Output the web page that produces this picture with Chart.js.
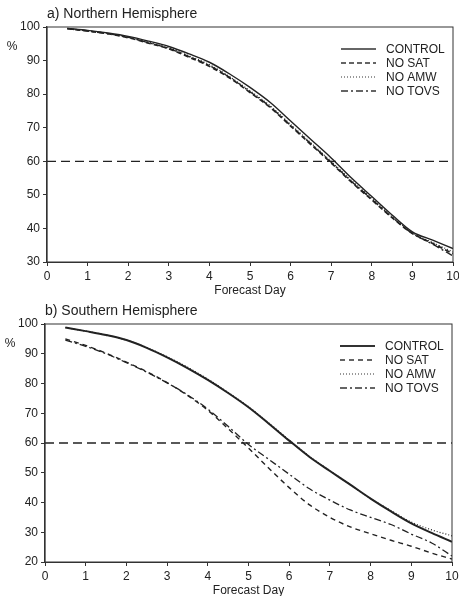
<!DOCTYPE html>
<html>
<head>
<meta charset="utf-8">
<script src="https://cdn.jsdelivr.net/npm/chart.js@4.4.0/dist/chart.umd.min.js"></script>
<style>
  html, body { margin: 0; padding: 0; background: #fff; overflow: hidden; }
  .panel { position: absolute; left: 0; width: 459px; }
  #panel-a { top: 0; height: 298px; }
  #panel-b { top: 298px; height: 300px; }
</style>
</head>
<body>
<div class="panel" id="panel-a"><canvas id="chart-a"></canvas></div>
<div class="panel" id="panel-b"><canvas id="chart-b"></canvas></div>
<script>
// forecast day of each point
const DAYS = [0.5, 1, 1.5, 2, 2.5, 3, 3.5, 4, 4.5, 5, 5.5, 6, 6.5, 7, 7.5, 8, 8.5, 9, 9.5, 10];
const SERIES_LABELS = ['CONTROL', 'NO SAT', 'NO AMW', 'NO TOVS'];

// a) Northern Hemisphere, %
const NH_CONTROL = [99.6, 99.0, 98.2, 97.2, 95.8, 94.2, 92.0, 89.5, 86.0, 82.0, 77.5, 72.0, 66.5, 61.0, 55.0, 49.5, 44.0, 39.0, 36.5, 34.0];
const NH_NO_SAT  = [99.5, 98.8, 98.0, 96.8, 95.2, 93.5, 91.0, 88.3, 84.8, 80.5, 76.0, 70.5, 65.0, 59.5, 53.8, 48.5, 43.2, 38.5, 35.5, 32.5];
const NH_NO_AMW  = [99.5, 98.9, 98.1, 97.0, 95.5, 93.8, 91.4, 88.8, 85.2, 81.0, 76.5, 71.0, 65.5, 60.0, 54.3, 49.0, 43.5, 38.7, 35.8, 33.0];
const NH_NO_TOVS = [99.5, 98.8, 98.0, 96.9, 95.3, 93.6, 91.2, 88.5, 85.0, 80.7, 76.2, 70.7, 65.2, 59.7, 54.0, 48.7, 43.3, 38.5, 35.3, 31.8];

// b) Southern Hemisphere, %
const SH_CONTROL = [98.8, 97.6, 96.3, 94.6, 92.0, 88.8, 85.2, 81.2, 76.8, 72.0, 66.5, 60.8, 55.3, 50.6, 46.0, 41.3, 37.0, 33.0, 29.8, 26.8];
const SH_NO_SAT  = [95.0, 92.8, 90.2, 87.2, 84.0, 80.3, 76.0, 71.0, 64.8, 58.3, 51.5, 45.0, 39.2, 35.0, 31.8, 29.5, 27.3, 25.3, 23.0, 21.0];
const SH_NO_AMW  = [98.8, 97.6, 96.3, 94.6, 92.1, 89.0, 85.5, 81.5, 77.0, 72.2, 66.7, 61.0, 55.5, 50.7, 46.0, 41.3, 37.3, 33.4, 30.8, 28.8];
const SH_NO_TOVS = [94.6, 92.5, 90.0, 87.0, 83.8, 80.2, 76.2, 71.4, 65.6, 59.5, 54.5, 49.5, 44.6, 40.8, 37.5, 35.0, 32.6, 29.4, 26.4, 22.0];

const THRESHOLD = 60;
const DAY_MIN = 0, DAY_MAX = 10;
const NH_Y_MIN = 30, SH_Y_MIN = 20, Y_MAX = 100;

const INK = '#222';
const FONT = "'Liberation Sans', Arial, sans-serif";

const NH_STYLES = [
  { width: 1.4, dash: [] },
  { width: 1.7, dash: [5, 3] },
  { width: 1.1, dash: [1, 2] },
  { width: 1.4, dash: [7, 3, 2, 3] }
];
const SH_STYLES = [
  { width: 2.0, dash: [] },
  { width: 1.4, dash: [5, 4] },
  { width: 1.2, dash: [1, 2] },
  { width: 1.3, dash: [7, 3, 2, 3] }
];

function buildDatasets(series, styles) {
  const sets = series.map((vals, i) => ({
    label: SERIES_LABELS[i],
    data: DAYS.map((d, j) => ({ x: d, y: vals[j] })),
    borderColor: INK,
    borderWidth: styles[i].width,
    borderDash: styles[i].dash,
    pointRadius: 0,
    cubicInterpolationMode: 'monotone',
    fill: false
  }));
  sets.push({
    data: [{ x: DAY_MIN, y: THRESHOLD }, { x: DAY_MAX, y: THRESHOLD }],
    borderColor: INK,
    borderWidth: 1.3,
    borderDash: [9, 5],
    pointRadius: 0,
    fill: false
  });
  return sets;
}

// box round the plot, the "%" label and the line legend
const decorations = {
  id: 'decorations',
  afterDatasetsDraw(chart) {
    const { ctx, chartArea: a } = chart;
    ctx.save();
    ctx.strokeStyle = '#333';
    ctx.lineWidth = 1;
    ctx.setLineDash([]);
    ctx.strokeRect(a.left, a.top, a.right - a.left, a.bottom - a.top);

    ctx.fillStyle = INK;
    ctx.font = '12px ' + FONT;
    ctx.textBaseline = 'middle';
    ctx.textAlign = 'center';
    ctx.fillText('%', a.left - 35, a.top + 20);

    ctx.textAlign = 'left';
    chart.data.datasets.filter(ds => ds.label).forEach((ds, i) => {
      const y = a.top + 22 + i * 14;
      ctx.beginPath();
      ctx.lineWidth = ds.borderWidth;
      ctx.setLineDash(ds.borderDash);
      ctx.moveTo(a.right - 112, y);
      ctx.lineTo(a.right - 77, y);
      ctx.stroke();
      ctx.setLineDash([]);
      ctx.fillText(ds.label, a.right - 67, y + 1);
    });
    ctx.restore();
  }
};

function makeChart(id, title, datasets, yMin, opts) {
  new Chart(document.getElementById(id), {
    type: 'line',
    data: { datasets },
    plugins: [decorations],
    options: {
      responsive: true,
      maintainAspectRatio: false,
      animation: false,
      layout: { padding: { top: opts.padTop, right: opts.padRight, left: 0, bottom: 0 } },
      plugins: {
        legend: { display: false },
        tooltip: { enabled: false },
        title: {
          display: true,
          text: title,
          align: 'start',
          fullSize: false,
          color: INK,
          font: { family: FONT, size: 14, weight: 'normal' },
          padding: { top: 0, bottom: 4 }
        }
      },
      scales: {
        x: {
          type: 'linear',
          min: DAY_MIN,
          max: DAY_MAX,
          ticks: { stepSize: 1, color: INK, padding: 3, font: { family: FONT, size: 12 } },
          grid: { drawOnChartArea: false, tickLength: 4, color: '#333' },
          border: { color: '#333' },
          title: {
            display: true,
            text: 'Forecast Day',
            color: INK,
            font: { family: FONT, size: 12 },
            padding: { top: 0, bottom: 0 }
          },
          afterFit(s) { s.height = opts.xHeight; s.paddingLeft = 0; s.paddingRight = 0; }
        },
        y: {
          min: yMin,
          max: Y_MAX,
          ticks: { stepSize: 10, color: INK, padding: 3, font: { family: FONT, size: 12 } },
          grid: { drawOnChartArea: false, tickLength: 4, color: '#333' },
          border: { color: '#333', width: 1.3 },
          afterFit(s) { s.width = opts.yWidth; s.paddingTop = 0; s.paddingBottom = 0; }
        }
      }
    }
  });
}

makeChart('chart-a', 'a) Northern Hemisphere',
  buildDatasets([NH_CONTROL, NH_NO_SAT, NH_NO_AMW, NH_NO_TOVS], NH_STYLES),
  NH_Y_MIN, { padTop: 6.2, padRight: 6, xHeight: 36, yWidth: 47 });

makeChart('chart-b', 'b) Southern Hemisphere',
  buildDatasets([SH_CONTROL, SH_NO_SAT, SH_NO_AMW, SH_NO_TOVS], SH_STYLES),
  SH_Y_MIN, { padTop: 5.2, padRight: 7, xHeight: 36, yWidth: 45 });
</script>
</body>
</html>
